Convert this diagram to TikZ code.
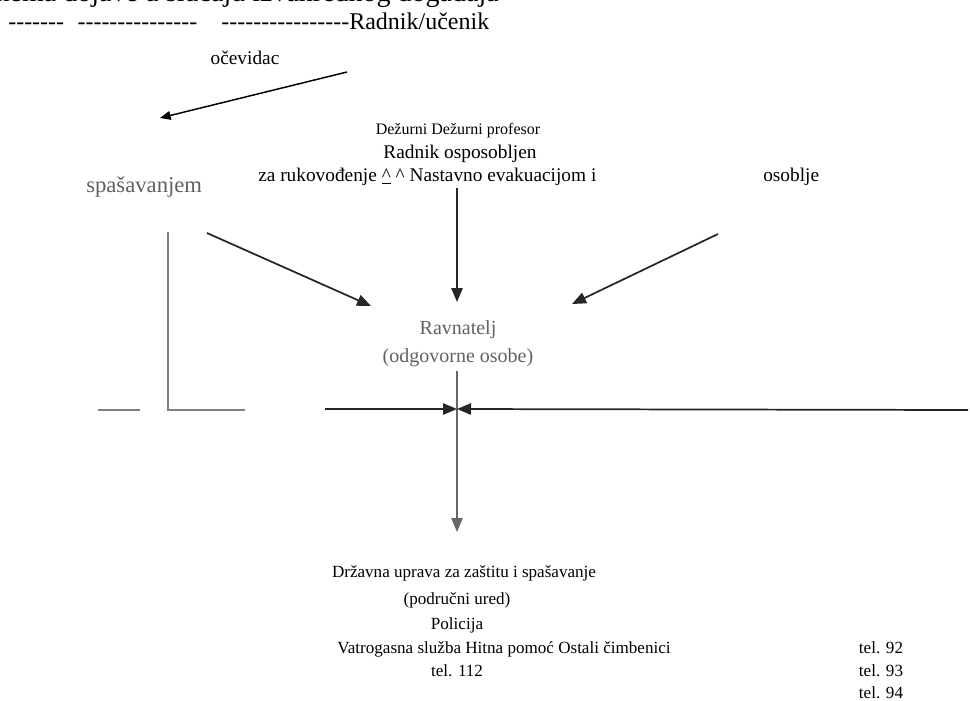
\documentclass[tikz,border=0pt]{standalone}
\usepackage{fontspec}
\setmainfont{Liberation Serif}
\usetikzlibrary{arrows.meta}
\newcommand\hy{\mbox{-}}
\newcommand\hyseven{\hy\hy\hy\hy\hy\hy\hy}
\begin{document}
\begin{tikzpicture}[x=0.75pt,y=-0.75pt,
  txt/.style={inner sep=0pt,font=\fontsize{12.8}{15}\selectfont},
  mid/.style={inner sep=0pt,font=\fontsize{14.5}{17}\selectfont},
  big/.style={inner sep=0pt,font=\fontsize{18}{21}\selectfont},
  small/.style={inner sep=0pt,font=\fontsize{12}{14}\selectfont},
  graytxt/.style={inner sep=0pt,text=black!62,font=\fontsize{15}{18}\selectfont},
  head/.style={inner sep=0pt,font=\fontsize{21}{24}\selectfont},
  conn/.style={line width=1.3pt,draw=black!85},
  grayline/.style={line width=1.2pt,draw=black!50},
  arr/.style={conn,-{Triangle[length=10.5pt,width=8.5pt]}},
  thinarr/.style={line width=1.1pt,-{Triangle[length=8pt,width=6.5pt]}}
]
\useasboundingbox (0,0) rectangle (970,700);
% texts
\node[head,anchor=base east] (head) at (499,1) {Shema dojave u slučaju izvanrednog događaja};
\node[big,anchor=base west] (top) at (8,29) {\hyseven\hspace{10pt}\hyseven\hyseven\hy\hspace{18pt}\hyseven\hyseven\hy\hy Radnik/učenik};
\node[mid,anchor=base] (ocev) at (245,64) {očevidac};
\node[small,anchor=base] (dez) at (458,134) {Dežurni Dežurni profesor};
\node[mid,anchor=base] (radnik) at (460,158) {Radnik osposobljen};
\node[mid,anchor=base west] (zaruk) at (258,181) {za rukovođenje \underline{\^{}} \^{} Nastavno evakuacijom i};
\node[mid,anchor=base west] (osob) at (763,181) {osoblje};
\node[graytxt,anchor=base west,font=\fontsize{17}{20}\selectfont] (spas) at (86,192) {spašavanjem};
\node[graytxt,anchor=base] (ravn) at (458,334) {Ravnatelj};
\node[graytxt,anchor=base] (odg) at (458,362) {(odgovorne osobe)};
\node[txt,anchor=base] (drz) at (464,577) {Državna uprava za zaštitu i spašavanje};
\node[txt,anchor=base] (podr) at (457,604) {(područni ured)};
\node[txt,anchor=base] (pol) at (457,629) {Policija};
\node[txt,anchor=base] (vat) at (504,653) {Vatrogasna služba Hitna pomoć Ostali čimbenici};
\node[txt,anchor=base] (t112) at (457,676) {tel. 112};
\node[txt,anchor=base] (t92) at (881,653) {tel. 92};
\node[txt,anchor=base] (t93) at (881,676) {tel. 93};
\node[txt,anchor=base] (t94) at (881,698) {tel. 94};
% coordinates
\coordinate (a1s) at (347,72);
\coordinate (a1e) at (160,118);
\coordinate (a2s) at (207,233);
\coordinate (a2e) at (371,306);
\coordinate (a3s) at (457,188);
\coordinate (a3e) at (457,302);
\coordinate (a4s) at (718,234);
\coordinate (a4e) at (572,304);
\coordinate (g1) at (168,232);
\coordinate (g2) at (168,410);
\coordinate (g3) at (245,410);
\coordinate (g4) at (98,410);
\coordinate (g5) at (140,410);
\coordinate (hL) at (325,409);
\coordinate (hM) at (457,409);
\coordinate (hR) at (968,410);
\coordinate (vT) at (457,371);
\coordinate (vB) at (457,532);
% connectors
\draw[thinarr] (a1s) -- (a1e);
\draw[arr] (a2s) -- (a2e);
\draw[arr] (a3s) -- (a3e);
\draw[arr] (a4s) -- (a4e);
\draw[grayline] (g1) -- (g2) -- (g3);
\draw[grayline] (g4) -- (g5);
\draw[conn,draw=black!60] (vT) -- (hM);
\draw[arr,draw=black!60] (hM) -- (vB);
\draw[arr] (hL) -- (hM);
\draw[arr] (hR) -- (hM);
\end{tikzpicture}
\end{document}
